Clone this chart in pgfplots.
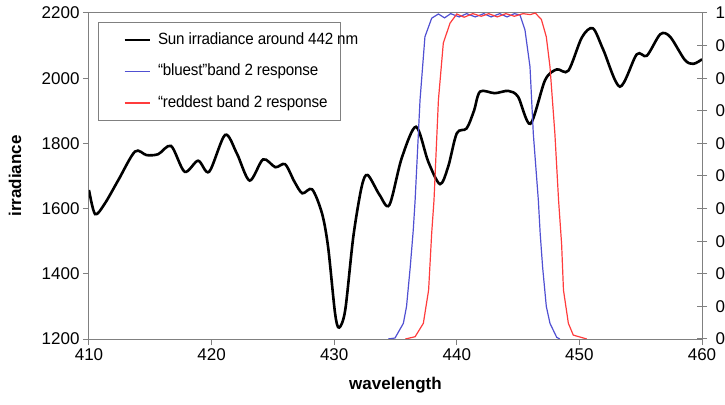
\documentclass[border=0pt]{standalone}
\usepackage{pgfplots}
\pgfplotsset{compat=1.18}
\usepackage{fontspec}
\setmainfont{Liberation Sans}
\newfontfamily\legfont[FakeStretch=0.93, LetterSpace=-1.0]{Liberation Sans}
\definecolor{bandblue}{RGB}{80,80,210}
\definecolor{bandred}{RGB}{255,60,60}
\definecolor{axgray}{RGB}{128,128,128}
\newcommand{\leg}[1]{#1\hspace*{-33pt}}

\begin{document}
\begin{tikzpicture}
\useasboundingbox (-89pt,-65pt) rectangle (636pt,339pt);
\begin{axis}[
  at={(0pt,0pt)}, anchor=south west,
  scale only axis, width=613pt, height=326pt,
  xmin=410, xmax=460, ymin=1200, ymax=2200,
  xtick={410,420,...,460}, ytick={1200,1400,...,2200},
  xtick pos=bottom, ytick pos=left, tick align=outside,
  major tick length=6pt,
  axis line style={draw=axgray, line width=1pt},
  tick style={draw=axgray, line width=1pt},
  ticklabel style={font=\fontsize{17}{17}\selectfont},
  /pgf/number format/assume math mode=true,
  /pgf/number format/set thousands separator={},
  xlabel={wavelength}, ylabel={irradiance},
  every axis x label/.style={at={(axis description cs:0.5,-0.141)}, anchor=center,
    font=\fontsize{17}{17}\selectfont\bfseries},
  every axis y label/.style={at={(axis description cs:-0.1207,0.5)}, anchor=center,
    rotate=90, font=\fontsize{17}{17}\selectfont\bfseries},
  legend style={at={(axis description cs:0.0147,0.971)}, anchor=north west,
    draw=axgray, line width=0.8pt, inner xsep=15pt, inner ysep=1.5pt,
    nodes={inner sep=0pt, text height=20pt, text depth=11.5pt},
    font=\legfont\fontsize{16.3}{16.3}\selectfont, row sep=0pt, column sep=0pt},
  legend cell align=left,
  legend image code/.code={\path (0pt,0pt) (42pt,0pt); \draw[#1] (10pt,0pt) -- (35pt,0pt);},
]
\addplot[black, line width=2.6pt, smooth, tension=0.5] coordinates {
(410.0,1657) (410.5,1583) (411.3,1616) (412.4,1688) (413.75,1775) (414.7,1764)
(415.65,1767) (416.7,1792) (417.8,1713) (418.9,1747) (419.8,1713) (421.1,1826)
(422.05,1770) (423.1,1686) (424.2,1751) (425.2,1727) (426.0,1736) (426.75,1683)
(427.4,1647) (428.2,1659) (429.0,1586) (429.5,1483) (430.07,1279) (430.4,1235)
(430.9,1289) (431.56,1514) (432.24,1667) (432.73,1703) (433.7,1642) (434.5,1611)
(435.5,1754) (436.67,1851) (437.67,1744) (438.63,1675) (439.3,1729) (440.0,1831)
(440.8,1846) (441.4,1900) (441.9,1959) (443.1,1954) (444.2,1961) (445.0,1943)
(446.0,1860) (447.2,1994) (448.15,2027) (449.1,2023) (450.2,2125) (451.1,2153)
(451.95,2087) (453.3,1974) (454.67,2073) (455.5,2069) (456.6,2135) (457.4,2127)
(458.6,2056) (459.3,2044) (460.0,2058)
};
\addlegendentry{\leg{Sun irradiance around 442 nm}}
\addlegendimage{legend image code/.code={\path (0pt,0pt) (42pt,0pt); \draw[bandblue, line width=1.3pt] (10pt,0pt) -- (35pt,0pt);}}
\addlegendentry{\leg{“bluest”band 2 response}}
\addlegendimage{legend image code/.code={\path (0pt,0pt) (42pt,0pt); \draw[bandred, line width=1.3pt] (10pt,0pt) -- (35pt,0pt);}}
\addlegendentry{\leg{“reddest band 2 response}}
\end{axis}
\begin{axis}[
  at={(0pt,0pt)}, anchor=south west,
  scale only axis, width=613pt, height=326pt,
  xmin=410, xmax=460, ymin=0, ymax=1,
  axis x line=none, axis y line*=right,
  ytick={0,0.1,...,1.01},
  tick align=center, major tick length=10pt,
  axis line style={draw=axgray, line width=1pt},
  tick style={draw=axgray, line width=1pt},
  ticklabel style={font=\fontsize{17}{17}\selectfont},
  yticklabel style={xshift=5pt, /pgf/number format/fixed, /pgf/number format/precision=1},
  /pgf/number format/assume math mode=true,
]
\addplot[bandblue, line width=1.2pt] coordinates {
(434.4,0) (434.96,0.003) (435.64,0.048) (435.9,0.10) (436.2,0.22) (436.45,0.335)
(436.6,0.426) (437.0,0.733) (437.4,0.927) (437.95,0.984) (438.5,0.997)
(439.0,0.985) (439.5,0.998) (440.2,0.988) (440.8,0.998) (441.5,0.988)
(442.2,0.998) (442.8,0.988) (443.5,0.998) (444.1,0.988) (444.7,0.998)
(445.15,0.994) (445.56,0.948) (445.97,0.835) (446.24,0.63) (446.65,0.426)
(446.8,0.324) (447.0,0.22) (447.3,0.10) (447.6,0.048) (448.15,0.005) (448.4,0)
};
\addplot[bandred, line width=1.2pt] coordinates {
(435.8,0) (436.6,0.007) (437.27,0.048) (437.7,0.15) (437.95,0.324) (438.14,0.426)
(438.5,0.733) (438.9,0.908) (439.45,0.969) (440.0,0.997) (440.6,0.987)
(441.3,0.998) (442.0,0.99) (442.6,0.998) (443.3,0.988) (444.0,0.998)
(444.7,0.99) (445.4,0.998) (446.0,0.995) (446.4,1.0) (446.9,0.98)
(447.3,0.927) (447.6,0.835) (448.0,0.63) (448.3,0.426) (448.55,0.29)
(448.7,0.15) (449.1,0.048) (449.5,0.012) (450.6,0)
};
\end{axis}
\end{tikzpicture}
\end{document}
